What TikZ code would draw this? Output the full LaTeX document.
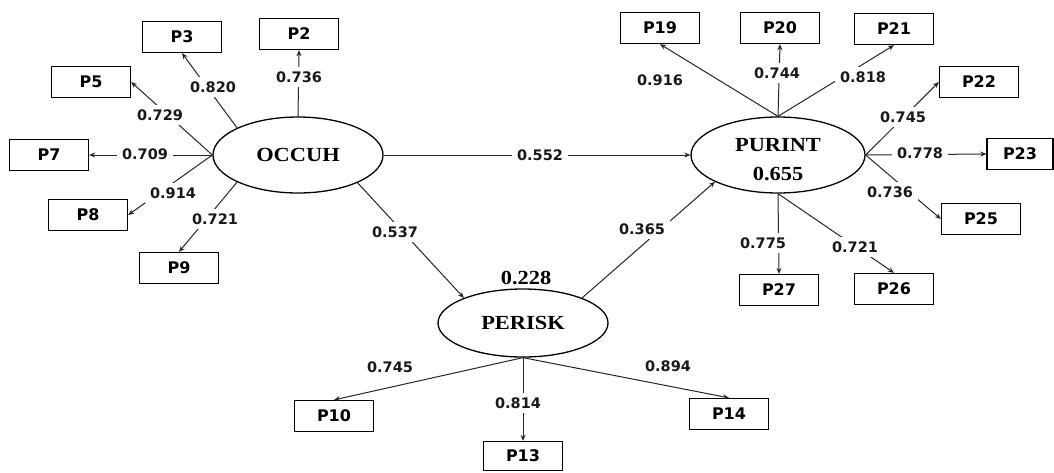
\documentclass[tikz,border=0pt]{standalone}
\usepackage{fontspec}
\usepackage{graphicx}
\setmainfont{Liberation Serif}
\newfontfamily\numfont{DejaVu Sans}
\usetikzlibrary{shapes.geometric,arrows.meta}
\begin{document}
\begin{tikzpicture}[x=1pt,y=-1pt,
  ind/.style={draw=black,line width=1.3pt,minimum width=79pt,minimum height=31pt,inner sep=0pt,
    font=\numfont\bfseries\fontsize{16}{16}\selectfont},
  lat/.style={ellipse,draw=black,line width=1.3pt,minimum width=170pt,minimum height=76pt,inner sep=0pt,
    font=\bfseries\fontsize{20}{20}\selectfont},
  rsq/.style={inner sep=0pt,font=\bfseries\fontsize{20}{20}\selectfont},
  conn/.style={draw=black!85,line width=1pt,-{Stealth[length=6pt,width=5pt]}},
  lbl/.style={fill=white,inner xsep=5pt,inner ysep=4.5pt,text=black!90,
    font=\numfont\bfseries\fontsize{14.5}{14.5}\selectfont}]
\useasboundingbox (0,0) rectangle (1054,472);
\fill[white] (0,0) rectangle (1054,472);

% latent variables
\node[lat] (occ) at (298,155) {\scalebox{1.12}[1]{OCCUH}};
\node[lat,minimum width=174pt] (pur) at (778,155) {};
\node[lat,minimum height=68pt] (per) at (523,323) {\scalebox{1.12}[1]{PERISK}};
\node[rsq] (purname) at (778,145) {\scalebox{1.12}[1]{PURINT}};
\node[rsq] (purr2) at (778,174) {\scalebox{1.12}[1]{0.655}};
\node[rsq] (perr2) at (526,278) {\scalebox{1.12}[1]{0.228}};

% indicators
\node[ind] (p3) at (182,37) {P3};
\node[ind] (p2) at (299,34) {P2};
\node[ind] (p5) at (91,82) {P5};
\node[ind] (p7) at (49,155) {P7};
\node[ind] (p8) at (88,215) {P8};
\node[ind] (p9) at (179,268) {P9};
\node[ind] (p19) at (660,28) {P19};
\node[ind] (p20) at (780,28) {P20};
\node[ind] (p21) at (894,29) {P21};
\node[ind] (p22) at (979,82) {P22};
\node[ind,minimum width=66pt] (p23) at (1020,154) {P23};
\node[ind] (p25) at (981,219) {P25};
\node[ind] (p27) at (779,290) {P27};
\node[ind] (p26) at (894,289) {P26};
\node[ind] (p10) at (334,416) {P10};
\node[ind,minimum height=29pt] (p13) at (523,456) {P13};
\node[ind] (p14) at (729,414) {P14};

% connectors
\draw[conn] (occ.156) -- (p3.south);
\draw[conn] (occ.north) -- (p2.south);
\draw[conn] (occ.west) -- (p5.east);
\draw[conn] (occ.west) -- (p7.east);
\draw[conn] (occ.west) -- (p8.east);
\draw[conn] (occ.204) -- (p9.north);
\draw[conn] (occ.-25) -- (per.157);
\draw[conn] (occ.east) -- (pur.west);
\draw[conn] (per.23) -- (pur.203);
\draw[conn] (pur.north) -- (p19.south);
\draw[conn] (pur.north) -- (p20.south);
\draw[conn] (pur.north) -- (p21.south);
\draw[conn] (pur.east) -- (p22.west);
\draw[conn] (pur.east) -- (p23.west);
\draw[conn] (pur.east) -- (p25.west);
\draw[conn] (pur.south) -- (p27.north);
\draw[conn] (pur.south) -- (p26.north);
\draw[conn] (per.south) -- (p10.north);
\draw[conn] (per.south) -- (p13.north);
\draw[conn] (per.south) -- (p14.north);

% loading / path labels
\node[lbl] (l3) at (213,87) {0.820};
\node[lbl] (l2) at (299,77) {0.736};
\node[lbl] (l5) at (160,115) {0.729};
\node[lbl] (l7) at (145,154) {0.709};
\node[lbl] (l8) at (173,193) {0.914};
\node[lbl] (l9) at (215,219) {0.721};
\node[lbl] (lop) at (395,232) {0.537};
\node[lbl] (lou) at (540,155) {0.552};
\node[lbl] (lpu) at (642,229) {0.365};
\node[lbl] (l19) at (660,80) {0.916};
\node[lbl] (l20) at (777,73) {0.744};
\node[lbl] (l21) at (863,77) {0.818};
\node[lbl] (l22) at (903,117) {0.745};
\node[lbl] (l23) at (920,153) {0.778};
\node[lbl] (l25) at (890,192) {0.736};
\node[lbl] (l27) at (763,243) {0.775};
\node[lbl] (l26) at (855,247) {0.721};
\node[lbl] (l10) at (390,367) {0.745};
\node[lbl] (l13) at (518,403) {0.814};
\node[lbl] (l14) at (668,366) {0.894};
\end{tikzpicture}
\end{document}
